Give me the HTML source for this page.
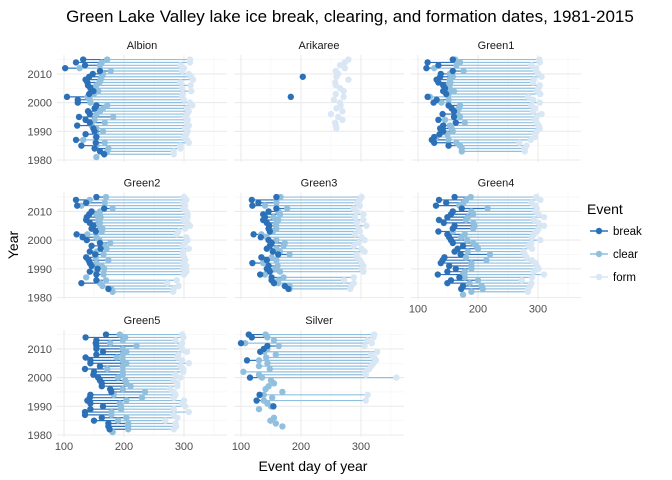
<!DOCTYPE html>
<html><head><meta charset="utf-8">
<style>
body{margin:0;background:#fff;}
svg{display:block;font-family:"Liberation Sans",sans-serif;}
</style></head>
<body>
<svg id="chart" width="672" height="480" xmlns="http://www.w3.org/2000/svg">
<text x="350" y="22" text-anchor="middle" font-size="17" fill="#000">Green Lake Valley lake ice break, clearing, and formation dates, 1981-2015</text>
<text x="313" y="471" text-anchor="middle" font-size="14" fill="#000">Event day of year</text>
<text transform="translate(18,245) rotate(-90)" text-anchor="middle" font-size="14" fill="#000">Year</text>
<g id="panels"></g>
<g>
<text x="587" y="214" font-size="14" fill="#000">Event</text>
<g><line x1="590" y1="231" x2="608" y2="231" stroke="#2c71b8" stroke-width="1.5"/><circle cx="599" cy="231" r="3.2" fill="#2c71b8"/><text x="613" y="235" font-size="11.5" fill="#000">break</text></g>
<g><line x1="590" y1="254" x2="608" y2="254" stroke="#91c0df" stroke-width="1.5"/><circle cx="599" cy="254" r="3.2" fill="#91c0df"/><text x="613" y="258" font-size="11.5" fill="#000">clear</text></g>
<g><line x1="590" y1="277" x2="608" y2="277" stroke="#d9e7f5" stroke-width="1.5"/><circle cx="599" cy="277" r="3.2" fill="#d9e7f5"/><text x="613" y="281" font-size="11.5" fill="#000">form</text></g>
</g>
</svg>
<script>
const lakes = ["Albion","Arikaree","Green1","Green2","Green3","Green4","Green5","Silver"];
const firstYear = 2015; // arrays run 2015 down to 1981
const albionBreak=[132,120,135,102,160,148,142,136,139,140,144,149,142,105,123,123,154,151,140,143,125,136,143,122,149,151,136,154,120,153,129,151,160,167,null];
const albionClear=[172,163,160,126,178,165,163,161,159,154,151,157,150,139,143,144,172,165,160,154,182,151,168,146,154,165,154,153,132,168,154,174,172,167,154];
const albionForm=[310,310,294,300,297,308,312,315,294,311,297,312,298,297,300,310,314,305,308,305,302,306,305,308,302,306,304,300,305,308,294,294,283,283,null];
const arikareeBreak=[null,null,null,null,null,null,203,null,null,null,null,null,null,183,null,null,null,null,null,null,null,null,null,null,null,null,null,null,null,null,null,null,null,null,null];
const arikareeClear=[null,null,null,null,null,null,null,null,null,null,null,null,null,null,null,null,null,null,null,null,null,null,null,null,null,null,null,null,null,null,null,null,null,null,null];
const arikareeForm=[279,273,265,273,258,262,259,279,257,258,265,271,258,271,255,265,266,259,269,250,262,269,257,258,259,null,null,null,null,null,null,null,null,null,null];
const green1Break=[158,116,134,114,158,138,137,131,134,142,145,142,147,116,131,126,151,156,160,141,160,134,163,142,137,142,136,127,123,127,151,null,null,null,null];
const green1Clear=[162,170,164,127,176,153,158,153,154,149,153,160,151,120,151,139,170,168,164,166,170,145,178,153,156,158,149,131,151,164,170,173,173,null,null];
const green1Form=[302,303,289,297,297,301,306,293,292,303,301,298,304,284,292,303,289,295,292,306,298,295,298,301,303,298,295,295,288,269,281,278,278,null,null];
const green2Break=[154,120,137,122,167,146,142,138,137,143,149,146,153,121,131,138,160,146,161,143,152,137,141,143,146,156,143,154,null,154,129,null,174,null,null];
const green2Clear=[170,143,168,129,181,160,154,161,157,160,159,164,163,139,154,159,177,167,171,154,166,153,174,154,163,167,154,166,137,170,160,164,179,181,null];
const green2Form=[300,304,299,302,299,304,306,306,299,306,310,302,291,288,304,306,302,298,308,299,298,300,302,299,304,299,304,300,null,288,272,291,283,282,null];
const green3Break=[159,118,129,119,159,146,137,140,137,143,147,146,148,121,133,146,151,148,143,153,162,134,143,119,146,143,148,132,151,151,155,173,179,null,null];
const green3Clear=[166,159,159,140,177,162,165,154,162,159,158,159,153,134,143,159,173,171,159,165,181,151,159,137,161,157,165,140,171,162,162,181,181,null,null];
const green3Form=[301,298,294,298,288,293,304,290,304,293,309,296,298,290,301,306,296,288,301,306,293,293,298,301,304,301,304,null,288,272,288,284,282,null,null];
const green4Break=[161,135,147,130,173,158,155,149,135,143,161,158,134,149,152,155,158,175,166,161,171,144,141,138,152,163,149,133,169,155,149,175,172,null,null];
const green4Clear=[188,180,176,169,216,189,192,183,180,192,194,192,158,178,172,182,192,197,200,183,220,180,214,189,189,189,178,175,178,200,186,206,208,189,175];
const green4Form=[297,304,289,296,298,296,301,310,293,301,310,301,298,293,290,304,289,284,290,276,278,281,290,296,298,301,293,310,290,273,289,287,284,283,null];
const green5Break=[170,136,154,153,154,154,165,154,136,144,144,160,135,150,149,157,160,163,163,177,179,144,143,139,144,165,144,135,135,163,150,174,174,176,null];
const green5Clear=[193,202,198,177,221,198,204,198,188,198,204,198,172,198,198,190,202,204,211,198,235,183,230,204,193,195,195,179,179,204,190,207,207,207,181];
const green5Form=[297,299,286,297,294,297,305,291,289,297,308,294,299,299,286,294,283,289,289,277,283,286,283,300,297,302,283,308,283,289,269,286,287,283,null];
const silverBreak=[113,118,null,100,144,138,132,null,null,110,null,null,null,null,null,115,null,null,null,null,null,131,null,126,null,154,null,null,null,null,null,null,null,null,null];
const silverClear=[141,144,155,107,163,144,139,158,142,130,144,130,148,104,130,135,150,155,146,141,169,138,152,138,144,150,130,null,null,155,149,158,169,null,null];
const silverForm=[322,321,311,318,306,null,327,317,322,325,321,317,314,308,308,359,null,null,null,null,null,311,null,308,null,null,null,null,null,null,null,null,null,null,null];
const xTicks=[100,200,300];
const yTicks=[1980,1990,2000,2010];

const series=[[albionBreak,albionClear,albionForm],[arikareeBreak,arikareeClear,arikareeForm],[green1Break,green1Clear,green1Form],[green2Break,green2Clear,green2Form],[green3Break,green3Clear,green3Form],[green4Break,green4Clear,green4Form],[green5Break,green5Clear,green5Form],[silverBreak,silverClear,silverForm]];
const colors=["#2c71b8","#91c0df","#d9e7f5"];
const NS="http://www.w3.org/2000/svg";
const root=document.getElementById("panels");
const colLeft=[57,234,411], rowBase=[160,297.5,435], PW=170;
function mk(tag,attrs,parent){const e=document.createElementNS(NS,tag);for(const k in attrs)e.setAttribute(k,attrs[k]);parent.appendChild(e);return e;}
lakes.forEach((name,i)=>{
  const c=i%3, r=Math.floor(i/3);
  const L=colLeft[c], B=rowBase[r];
  const xs=d=>L+7+(d-100)*0.6;
  const ys=y=>B-(y-1980)*2.87;
  const g=mk("g",{},root);
  
  
  const top=B-105, bot=B+2;
  [150,250,350].forEach(d=>mk("line",{x1:xs(d),x2:xs(d),y1:top,y2:bot,stroke:"#f3f3f3","stroke-width":0.6},g));
  [1985,1995,2005,2015].forEach(y=>mk("line",{x1:L,x2:L+PW,y1:ys(y),y2:ys(y),stroke:"#f3f3f3","stroke-width":0.6},g));
  xTicks.forEach(d=>mk("line",{x1:xs(d),x2:xs(d),y1:top,y2:bot,stroke:"#ebebeb","stroke-width":1.1},g));
  yTicks.forEach(y=>mk("line",{x1:L,x2:L+PW,y1:ys(y),y2:ys(y),stroke:"#ebebeb","stroke-width":1.1},g));
  const st=mk("text",{x:L+PW/2,y:top-6,"text-anchor":"middle","font-size":"11",fill:"#1a1a1a"},g);
  st.textContent=name;
  
  
  if(c===0){yTicks.forEach(y=>{const t=mk("text",{x:L-5,y:ys(y)+4,"text-anchor":"end","font-size":"11",fill:"#4d4d4d"},g);t.textContent=y;
    
    });}
  if(r===2||(r===1&&c===2)){xTicks.forEach(d=>{const t=mk("text",{x:xs(d),y:bot+13,"text-anchor":"middle","font-size":"11",fill:"#4d4d4d"},g);t.textContent=d;
    
    });}
  const [bk,cl,fm]=series[i];
  for(let k=0;k<bk.length;k++){
    const yy=ys(firstYear-k);
    if(bk[k]!=null&&cl[k]!=null){const s=mk("line",{x1:xs(bk[k]),x2:xs(cl[k]),y1:yy,y2:yy,stroke:colors[0],"stroke-width":1.2},g);
      
      }
    if(cl[k]!=null&&fm[k]!=null){const s=mk("line",{x1:xs(cl[k]),x2:xs(fm[k]),y1:yy,y2:yy,stroke:colors[1],"stroke-width":1.2},g);
      
      }
  }
  [2,1,0].forEach(e=>{
    const arr=series[i][e];
    arr.forEach((v,k)=>{ if(v==null)return;
      const p=mk("circle",{cx:xs(v),cy:ys(firstYear-k),r:3.2,fill:colors[e]},g);
      
      
    });
  });
});
</script>
</body></html>
